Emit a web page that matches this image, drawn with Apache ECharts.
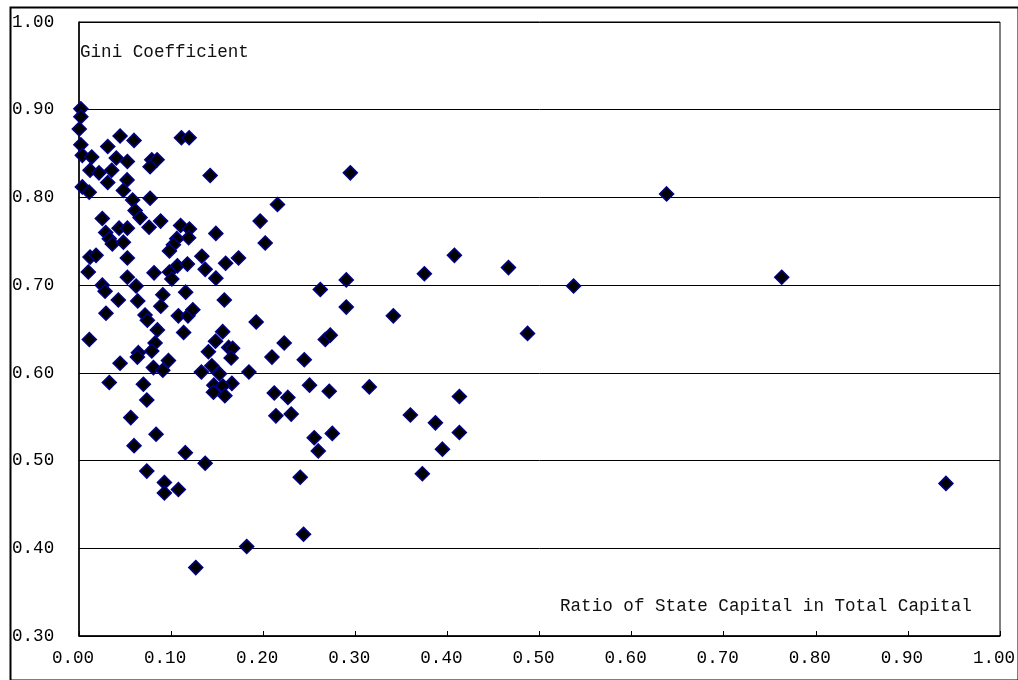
<!DOCTYPE html>
<html>
<head>
<meta charset="utf-8">
<script src="https://cdn.jsdelivr.net/npm/echarts@6/dist/echarts.min.js"></script>
<style>
html,body{margin:0;padding:0;background:#fff;}
#chart{width:1018px;height:680px;}
</style>
</head>
<body>
<div id="chart"></div>
<script>
// Ratio of state capital in total capital (x)
const stateCapitalRatio = [
0.002,0.002,0.0003,0.002,0.0036,0.0138,0.0312,0.0446,0.0598,0.0405,
0.0525,0.1112,0.1196,0.0790,0.0848,0.0772,0.1424,0.012,0.0217,0.0355,
0.0312,0.0522,0.0036,0.0111,0.0482,0.0582,0.0772,0.0609,0.0253,0.0663,
0.0435,0.0525,0.0761,0.0886,0.1103,0.1199,0.1486,0.029,0.0329,0.0362,
0.0482,0.1062,0.119,0.1025,0.0982,0.1334,0.012,0.0185,0.0525,0.1592,
0.1732,0.1068,0.1177,0.137,0.0101,0.0815,0.0982,0.1008,0.0525,0.062,
0.1486,0.0253,0.0283,0.0427,0.0638,0.091,0.1158,0.0888,0.1578,0.0293,
0.0717,0.0742,0.1079,0.1183,0.1236,0.0851,0.1136,0.156,0.0112,0.1482,
0.0826,0.0645,0.0634,0.079,0.1405,0.1625,0.1668,0.1652,0.0446,0.0971,
0.0808,0.091,0.1442,0.1329,0.1525,0.1845,0.0329,0.0699,0.1464,0.166,
0.1562,0.146,0.1584,0.0736,0.0562,0.0837,0.0598,0.1155,0.137,0.0736,
0.0927,0.0927,0.1079,0.1821,0.1268,0.1924,0.1967,0.2022,0.2155,0.2095,
0.212,0.2138,0.2228,0.2268,0.2304,0.2402,0.2438,0.2446,0.2503,0.2554,
0.2598,0.262,0.2674,0.2728,0.2717,0.275,0.2902,0.2902,0.2946,0.3152,
0.3413,0.3598,0.375,0.3728,0.387,0.3946,0.4076,0.413,0.413,0.4663,
0.487,0.537,0.638,0.763,0.9413
];
// Gini coefficient (y)
const giniCoefficient = [
0.901,0.892,0.878,0.860,0.848,0.846,0.858,0.870,0.865,0.845,
0.841,0.868,0.868,0.843,0.843,0.835,0.825,0.831,0.828,0.831,
0.817,0.820,0.812,0.806,0.808,0.797,0.799,0.785,0.776,0.777,
0.765,0.765,0.766,0.773,0.768,0.764,0.759,0.760,0.753,0.747,
0.749,0.753,0.754,0.746,0.739,0.733,0.732,0.734,0.731,0.725,
0.731,0.722,0.724,0.718,0.715,0.714,0.715,0.707,0.709,0.699,
0.708,0.700,0.693,0.683,0.682,0.689,0.692,0.676,0.683,0.668,
0.666,0.660,0.665,0.665,0.672,0.649,0.646,0.647,0.638,0.636,
0.634,0.623,0.618,0.625,0.624,0.629,0.628,0.617,0.611,0.614,
0.606,0.603,0.608,0.601,0.599,0.601,0.589,0.587,0.586,0.588,
0.585,0.578,0.574,0.569,0.549,0.530,0.517,0.509,0.497,0.488,
0.475,0.463,0.467,0.402,0.378,0.658,0.773,0.748,0.792,0.618,
0.577,0.551,0.634,0.572,0.553,0.481,0.416,0.615,0.586,0.526,
0.511,0.695,0.638,0.643,0.579,0.531,0.706,0.675,0.828,0.584,
0.665,0.552,0.713,0.485,0.543,0.513,0.734,0.573,0.532,0.720,
0.645,0.699,0.804,0.709,0.474
];
const yAxisTitle = 'Gini Coefficient';
const xAxisTitle = 'Ratio of State Capital in Total Capital';

const points = stateCapitalRatio.map((x, i) => [x, giniCoefficient[i]]);
const FONT = '"Liberation Mono", "DejaVu Sans Mono", monospace';
const FS = 17.6;

const chart = echarts.init(document.getElementById('chart'), null, {renderer: 'canvas'});
chart.setOption({
  animation: false,
  backgroundColor: '#fff',
  grid: {left: 79, top: 22, right: 18, bottom: 44, outerBoundsMode: 'none', containLabel: false,
         show: true, borderColor: '#000', borderWidth: 1, backgroundColor: 'transparent'},
  xAxis: {
    type: 'value', min: 0, max: 1, interval: 0.1,
    axisLine: {show: true, onZero: false, lineStyle: {color: '#000', width: 1.5}},
    axisTick: {show: true, inside: true, length: 5, lineStyle: {color: '#000'}},
    axisLabel: {formatter: v => v.toFixed(2), color: '#000', fontFamily: FONT, fontSize: FS, margin: 13,
                padding: [0, 12, 0, 0]},
    splitLine: {show: false}
  },
  yAxis: {
    type: 'value', min: 0.3, max: 1.0, interval: 0.1,
    axisLine: {show: true, onZero: false, lineStyle: {color: '#000', width: 1.5}},
    axisTick: {show: false},
    axisLabel: {formatter: v => v.toFixed(2), color: '#000', fontFamily: FONT, fontSize: FS, margin: 67, align: 'left'},
    splitLine: {show: true, lineStyle: {color: '#000', width: 1}}
  },
  series: [{
    type: 'scatter',
    symbol: 'diamond',
    symbolSize: 14,
    itemStyle: {color: '#000', borderColor: '#00008B', borderWidth: 1.5, opacity: 1},
    data: points
  }],
  graphic: [
    {type: 'rect', left: 8, top: 5, shape: {width: 1008, height: 673}, style: {fill: 'none', stroke: '#000', lineWidth: 2}, silent: true, z: 100},
    {type: 'text', left: 80, top: 43, style: {text: yAxisTitle, fill: '#111', font: FS + 'px ' + FONT}},
    {type: 'text', left: 560, top: 597, style: {text: xAxisTitle, fill: '#111', font: FS + 'px ' + FONT}}
  ]
});
</script>
</body>
</html>
